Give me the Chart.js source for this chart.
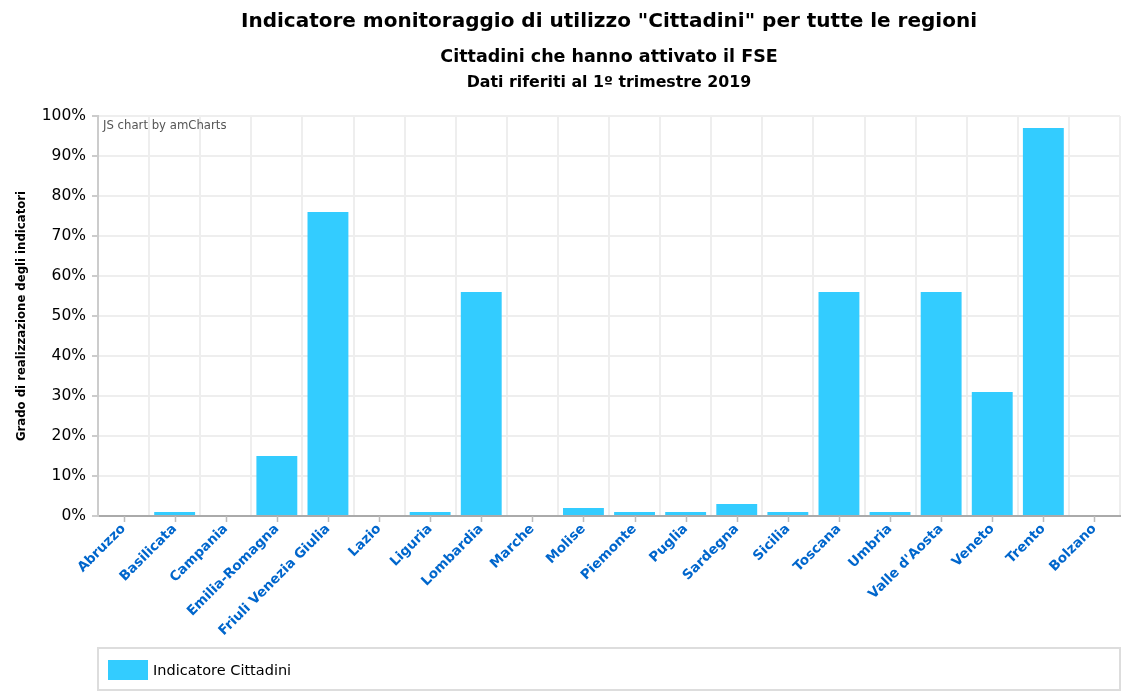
<!DOCTYPE html>
<html>
<head>
<meta charset="utf-8">
<script src="https://cdn.jsdelivr.net/npm/chart.js@4"></script>
<style>
html,body{margin:0;padding:0;background:#fff;}
#wrap{width:1140px;height:700px;position:relative;}
</style>
</head>
<body>
<div id="wrap"><canvas id="c" width="1140" height="700"></canvas></div>
<script>
const titleLines = ['Indicatore monitoraggio di utilizzo "Cittadini" per tutte le regioni', 'Cittadini che hanno attivato il FSE', 'Dati riferiti al 1º trimestre 2019'];
const categories = ['Abruzzo','Basilicata','Campania','Emilia-Romagna','Friuli Venezia Giulia','Lazio','Liguria','Lombardia','Marche','Molise','Piemonte','Puglia','Sardegna','Sicilia','Toscana','Umbria',"Valle d'Aosta",'Veneto','Trento','Bolzano'];
const cittadini = [0,1,0,15,76,0,1,56,0,2,1,1,3,1,56,1,56,31,97,0];
const seriesName = 'Indicatore Cittadini';
const yAxisTitle = 'Grado di realizzazione degli indicatori';
const creditText = 'JS chart by amCharts';
const BAR = '#33ccff';

const decor = {
  id: 'decor',
  afterDraw(chart) {
    const ctx = chart.ctx;
    const ca = chart.chartArea;
    ctx.save();
    ctx.fillStyle = '#000';
    ctx.textAlign = 'center';
    ctx.textBaseline = 'middle';
    ctx.font = 'bold 20px "DejaVu Sans", sans-serif';
    ctx.fillText(titleLines[0], 609, 22);
    ctx.font = 'bold 17.5px "DejaVu Sans", sans-serif';
    ctx.fillText(titleLines[1], 609, 57);
    ctx.font = 'bold 15.8px "DejaVu Sans", sans-serif';
    ctx.fillText(titleLines[2], 609, 83);
    // credit
    ctx.textAlign = 'left';
    ctx.font = '11.7px "DejaVu Sans", sans-serif';
    ctx.fillStyle = '#555';
    ctx.fillText(creditText, ca.left + 5, ca.top + 10);
    // tick marks at category centers
    const xs = chart.scales.x;
    ctx.strokeStyle = '#bbb';
    ctx.lineWidth = 1.5;
    categories.forEach((c, i) => {
      const px = Math.round(xs.getPixelForValue(i)) + 0.5;
      ctx.beginPath();
      ctx.moveTo(px, ca.bottom);
      ctx.lineTo(px, ca.bottom + 6);
      ctx.stroke();
    });
    // legend
    ctx.strokeStyle = '#ddd';
    ctx.lineWidth = 2;
    ctx.strokeRect(ca.left, 648, ca.right - ca.left, 42);
    ctx.fillStyle = BAR;
    ctx.fillRect(108, 660, 40, 20);
    ctx.fillStyle = '#000';
    ctx.font = '14.5px "DejaVu Sans", sans-serif';
    ctx.fillText(seriesName, 153, 671);
    ctx.restore();
  }
};

new Chart(document.getElementById('c'), {
  type: 'bar',
  data: {
    labels: categories,
    datasets: [{
      label: seriesName,
      data: cittadini,
      backgroundColor: BAR,
      borderWidth: 0,
      barPercentage: 0.8,
      categoryPercentage: 1.0
    }]
  },
  options: {
    responsive: false,
    animation: false,
    devicePixelRatio: 1,
    layout: { padding: { top: 116, left: 0, right: 20, bottom: 0 } },
    plugins: { legend: { display: false }, title: { display: false }, tooltip: { enabled: false } },
    scales: {
      x: {
        afterFit(s) { s.height = 184; },
        grid: { color: '#eeeeee', lineWidth: 2, offset: true, drawTicks: false },
        border: { color: '#aaa', width: 2 },
        ticks: {
          color: '#0066cc',
          font: { family: '"DejaVu Sans", sans-serif', size: 13.5, weight: 'bold' },
          maxRotation: 45, minRotation: 45, autoSkip: false, padding: 5
        }
      },
      y: {
        min: 0, max: 100,
        afterFit(s) { s.width = 98; },
        grid: { color: '#eeeeee', lineWidth: 2, tickLength: 6, tickColor: '#ccc' },
        border: { color: '#ccc', width: 2 },
        ticks: {
          stepSize: 10,
          color: '#000',
          padding: 6,
          font: { family: '"DejaVu Sans", sans-serif', size: 15.5 },
          callback: v => v + '%'
        },
        title: {
          display: true,
          text: yAxisTitle,
          color: '#000',
          font: { family: '"DejaVu Sans", sans-serif', size: 11.7, weight: 'bold' },
          padding: { top: 15, bottom: 0 }
        }
      }
    }
  },
  plugins: [decor]
});
</script>
</body>
</html>
